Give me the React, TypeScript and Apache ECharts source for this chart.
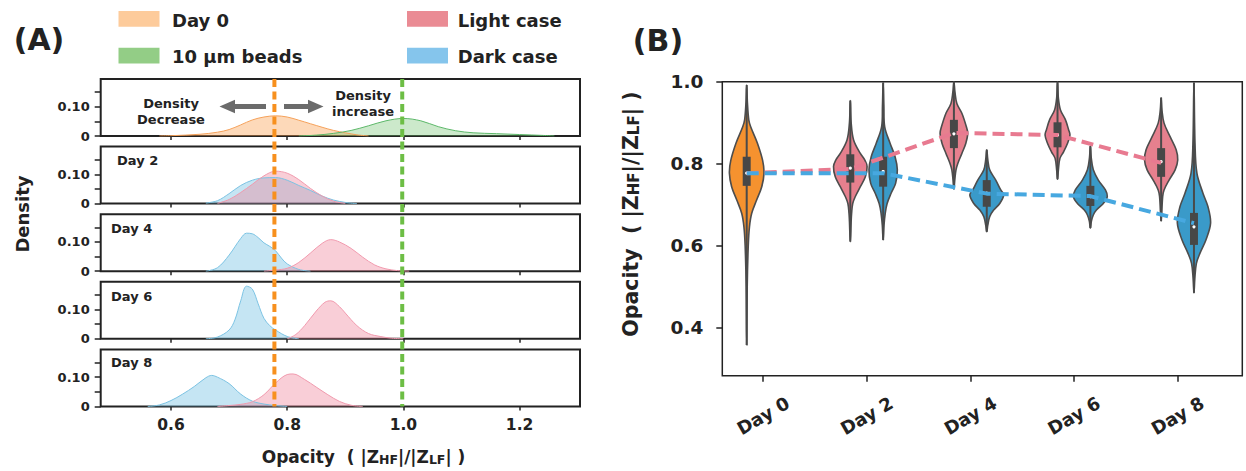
import React, { useEffect, useRef } from 'react';
import * as echarts from 'echarts';

// ---------------- Panel A data ----------------
const TICKS_A_X = [0.6, 0.8, 1.0, 1.2];
const TICKS_A_Y = [0, 0.05, 0.1, 0.15];
const LABELS_A_Y = [0, 0.1];
const PANEL_A_DAYS = ['Day 2', 'Day 4', 'Day 6', 'Day 8'];

const DAY0_X = [0.58, 0.6, 0.65, 0.68, 0.7, 0.72, 0.74, 0.76, 0.78, 0.8, 0.82, 0.84, 0.86, 0.88, 0.9, 0.92, 0.94];
const DAY0_Y = [0, 0.001, 0.006, 0.013, 0.022, 0.038, 0.055, 0.065, 0.069, 0.065, 0.054, 0.042, 0.03, 0.019, 0.011, 0.004, 0];

const BEADS_X = [0.82, 0.85, 0.88, 0.91, 0.94, 0.97, 1.0, 1.03, 1.06, 1.09, 1.12, 1.16, 1.2, 1.24, 1.26];
const BEADS_Y = [0, 0.003, 0.009, 0.019, 0.035, 0.052, 0.06, 0.052, 0.032, 0.018, 0.011, 0.008, 0.005, 0.002, 0];

const LIGHT_X = [
  [0.68, 0.7, 0.72, 0.74, 0.76, 0.78, 0.8, 0.82, 0.84, 0.86, 0.88, 0.9],
  [0.76, 0.78, 0.8, 0.82, 0.84, 0.86, 0.875, 0.89, 0.91, 0.93, 0.95, 0.97, 0.99, 1.01],
  [0.8, 0.815, 0.83, 0.85, 0.865, 0.875, 0.89, 0.9, 0.92, 0.94, 0.96, 0.98, 1.0],
  [0.68, 0.7, 0.72, 0.74, 0.76, 0.78, 0.8, 0.81, 0.83, 0.85, 0.87, 0.89, 0.91, 0.93],
];
const LIGHT_Y = [
  [0.001, 0.014, 0.038, 0.066, 0.095, 0.111, 0.104, 0.082, 0.052, 0.026, 0.008, 0.001],
  [0, 0.004, 0.01, 0.03, 0.062, 0.095, 0.108, 0.1, 0.078, 0.048, 0.022, 0.008, 0.002, 0],
  [0, 0.015, 0.045, 0.095, 0.125, 0.13, 0.11, 0.088, 0.045, 0.018, 0.008, 0.002, 0],
  [0, 0.003, 0.007, 0.016, 0.04, 0.08, 0.109, 0.111, 0.092, 0.066, 0.04, 0.017, 0.004, 0],
];
const DARK_X = [
  [0.66, 0.68, 0.7, 0.72, 0.74, 0.76, 0.78, 0.8, 0.82, 0.84, 0.86, 0.88, 0.9, 0.92],
  [0.66, 0.68, 0.7, 0.72, 0.73, 0.74, 0.75, 0.76, 0.77, 0.78, 0.79, 0.8, 0.82, 0.84],
  [0.66, 0.68, 0.7, 0.71, 0.72, 0.73, 0.74, 0.75, 0.76, 0.77, 0.78, 0.8, 0.82],
  [0.56, 0.58, 0.6, 0.62, 0.64, 0.66, 0.67, 0.68, 0.7, 0.72, 0.74, 0.76, 0.78, 0.8],
];
const DARK_Y = [
  [0.002, 0.01, 0.034, 0.062, 0.08, 0.088, 0.089, 0.08, 0.062, 0.045, 0.026, 0.012, 0.004, 0],
  [0, 0.012, 0.055, 0.112, 0.13, 0.128, 0.115, 0.097, 0.085, 0.07, 0.045, 0.025, 0.006, 0],
  [0, 0.006, 0.03, 0.065, 0.13, 0.18, 0.17, 0.12, 0.07, 0.045, 0.03, 0.008, 0],
  [0, 0.005, 0.02, 0.042, 0.068, 0.098, 0.106, 0.1, 0.078, 0.042, 0.018, 0.008, 0.003, 0],
];
// vertical reference lines: mean of Day 0, mean of 10 µm beads
const REF_LINES = [0.778, 0.998];

// ---------------- Panel B data ----------------
const DAY_NUMS = [0, 2, 4, 6, 8];
const TICKS_B_Y = [0.4, 0.6, 0.8, 1.0];
const LIGHT_MEANS = [0.777, 0.787, 0.875, 0.87, 0.802];
const DARK_MEANS = [0.777, 0.777, 0.727, 0.721, 0.655];

// violin profiles: [value, relative density width]
const DAY0_VIOLIN = [
  [0.358, 0], [0.5, 0.03], [0.6, 0.09], [0.646, 0.16], [0.679, 0.29], [0.712, 0.58], [0.744, 0.87],
  [0.777, 1.0], [0.808, 0.92], [0.85, 0.62], [0.89, 0.23], [0.907, 0.12], [0.95, 0.04], [0.992, 0],
];
const LIGHT_VIOLINS = [
  [[0.61, 0], [0.66, 0.05], [0.679, 0.075], [0.703, 0.14], [0.72, 0.29], [0.744, 0.58], [0.768, 0.87],
    [0.793, 0.97], [0.809, 0.84], [0.825, 0.58], [0.858, 0.19], [0.9, 0.05], [0.954, 0]],
  [[0.738, 0], [0.76, 0.05], [0.785, 0.12], [0.801, 0.23], [0.825, 0.46], [0.85, 0.69], [0.874, 0.8],
    [0.89, 0.72], [0.923, 0.46], [0.947, 0.17], [0.975, 0.06], [1.0, 0]],
  [[0.762, 0], [0.785, 0.05], [0.813, 0.14], [0.829, 0.35], [0.85, 0.58], [0.87, 0.72], [0.883, 0.64],
    [0.907, 0.46], [0.931, 0.17], [0.96, 0.05], [1.0, 0]],
  [[0.66, 0], [0.72, 0.09], [0.736, 0.17], [0.76, 0.46], [0.785, 0.81], [0.809, 0.96], [0.834, 0.87],
    [0.866, 0.52], [0.899, 0.17], [0.93, 0.05], [0.961, 0]],
];
const DARK_VIOLINS = [
  [[0.614, 0], [0.65, 0.05], [0.679, 0.12], [0.703, 0.23], [0.728, 0.46], [0.752, 0.72], [0.785, 0.82],
    [0.817, 0.69], [0.85, 0.4], [0.89, 0.09], [0.94, 0.04], [0.998, 0]],
  [[0.634, 0], [0.65, 0.06], [0.671, 0.17], [0.687, 0.4], [0.703, 0.75], [0.724, 0.98], [0.736, 0.81],
    [0.76, 0.52], [0.785, 0.17], [0.81, 0.06], [0.834, 0]],
  [[0.643, 0], [0.66, 0.06], [0.675, 0.17], [0.687, 0.35], [0.703, 0.75], [0.72, 0.98], [0.736, 0.87],
    [0.76, 0.46], [0.785, 0.17], [0.815, 0.05], [0.843, 0]],
  [[0.485, 0], [0.52, 0.05], [0.557, 0.14], [0.582, 0.35], [0.614, 0.69], [0.655, 0.96], [0.695, 0.81],
    [0.728, 0.52], [0.777, 0.17], [0.85, 0.06], [0.998, 0]],
];
// box stats: [q1, median, q3]
const DAY0_BOX = [[0.746, 0.777, 0.817]];
const LIGHT_BOX = [[0.754, 0.789, 0.823], [0.838, 0.873, 0.907], [0.84, 0.87, 0.901], [0.768, 0.805, 0.838]];
const DARK_BOX = [[0.744, 0.781, 0.817], [0.695, 0.728, 0.76], [0.697, 0.72, 0.746], [0.602, 0.646, 0.68]];

// ---------------- layout / style ----------------
const FONT = "'DejaVu Sans', sans-serif";
const INK = '#222';
const A_LEFT = 100.7, A_WIDTH = 479.3, A_TOP = 79, A_STEP = 67.6, A_HEIGHT = 57;
const A_BOTTOM = A_TOP + 4 * A_STEP + A_HEIGHT;
const B_LEFT = 722.3, B_TOP = 81.7, B_WIDTH = 520, B_HEIGHT = 294;
const OFFSET = 0.317; // hue dodge in days
const VIOLIN_HALF = 0.334;
const BOX_HALF = 0.077;

const C_DAY0_FILL = 'rgba(249,160,80,0.40)', C_DAY0_LINE = '#F5A15A';
const C_BEADS_FILL = 'rgba(108,192,106,0.35)', C_BEADS_LINE = '#5DB86A';
const C_LIGHT_FILL = 'rgba(240,125,150,0.38)', C_LIGHT_LINE = '#F19AAE';
const C_DARK_FILL = 'rgba(110,190,225,0.40)', C_DARK_LINE = '#7CC3E3';
const V_DAY0 = '#F5922F', V_LIGHT = '#E6808E', V_DARK = '#3A9AC9';
const REF_COLORS = ['#F7901E', '#6DBE45'];

const pairs = (xs: number[], ys: number[]) => xs.map((x, i) => [x, ys[i]]);

const densitySeries = (name: string, k: number, xs: number[], ys: number[], line: string, fill: string) => ({
  name,
  type: 'line',
  xAxisIndex: k,
  yAxisIndex: k,
  data: pairs(xs, ys),
  smooth: 0.35,
  symbol: 'none',
  lineStyle: { color: line, width: 1 },
  areaStyle: { color: fill, opacity: 1 },
  z: 3,
});

const makeViolin = (profiles: number[][][], boxes: number[][], fill: string) => (params: any, api: any) => {
  const i = params.dataIndex;
  const cx = api.value(0);
  const prof = profiles[i];
  const right = prof.map((p) => api.coord([cx + p[1] * VIOLIN_HALF, p[0]]));
  const left = prof.slice(1, -1).reverse().map((p) => api.coord([cx - p[1] * VIOLIN_HALF, p[0]]));
  const vmin = prof[0][0];
  const vmax = prof[prof.length - 1][0];
  const [q1, med, q3] = boxes[i];
  const pTop = api.coord([cx, vmax]);
  const pBot = api.coord([cx, vmin]);
  const bTL = api.coord([cx - BOX_HALF, q3]);
  const bBR = api.coord([cx + BOX_HALF, q1]);
  const pm = api.coord([cx, med]);
  return {
    type: 'group',
    children: [
      { type: 'polygon', shape: { points: right.concat(left), smooth: 0.35 }, style: { fill, stroke: '#4d4d4d', lineWidth: 1.6 } },
      { type: 'line', shape: { x1: pTop[0], y1: pTop[1], x2: pBot[0], y2: pBot[1] }, style: { stroke: '#4a4a4a', lineWidth: 2 } },
      { type: 'rect', shape: { x: bTL[0], y: bTL[1], width: bBR[0] - bTL[0], height: bBR[1] - bTL[1] }, style: { fill: '#474747' } },
      { type: 'circle', shape: { cx: pm[0], cy: pm[1], r: 1.6 }, style: { fill: '#fff' } },
    ],
  };
};

function buildOption() {
  const grids: any[] = [];
  const xAxes: any[] = [];
  const yAxes: any[] = [];
  for (let k = 0; k < 5; k++) {
    grids.push({
      left: A_LEFT, top: A_TOP + k * A_STEP, width: A_WIDTH, height: A_HEIGHT,
      show: true, borderColor: INK, borderWidth: 2, backgroundColor: 'transparent',
      containLabel: false, outerBoundsMode: 'none',
    });
    xAxes.push({
      type: 'value', gridIndex: k, min: 0.479, max: 1.304,
      axisLine: { show: false, onZero: false },
      splitLine: { show: false },
      axisTick: { show: true, customValues: TICKS_A_X, length: 4, lineStyle: { color: INK, width: 1.5 } },
      axisLabel: {
        show: k === 4, customValues: TICKS_A_X, formatter: (v: number) => v.toFixed(1),
        fontFamily: FONT, fontWeight: 'bold', fontSize: 15.5, color: INK, margin: 11,
      },
    });
    yAxes.push({
      type: 'value', gridIndex: k, min: 0, max: 0.195,
      axisLine: { show: false, onZero: false },
      splitLine: { show: false },
      axisTick: { show: true, customValues: TICKS_A_Y, length: 6, lineStyle: { color: INK, width: 1.5 } },
      axisLabel: {
        customValues: LABELS_A_Y, formatter: (v: number) => (v === 0 ? '0' : v.toFixed(2)),
        fontFamily: FONT, fontWeight: 'bold', fontSize: 13, color: INK, margin: 11,
      },
    });
  }
  grids.push({
    left: B_LEFT, top: B_TOP, width: B_WIDTH, height: B_HEIGHT,
    show: true, borderColor: INK, borderWidth: 1.5, backgroundColor: 'transparent',
    containLabel: false, outerBoundsMode: 'none',
  });
  xAxes.push({
    type: 'value', gridIndex: 5, min: -0.788, max: 9.25,
    axisLine: { show: false, onZero: false }, splitLine: { show: false },
    axisTick: { show: true, customValues: DAY_NUMS, length: 6, lineStyle: { color: INK, width: 1.5 } },
    axisLabel: {
      customValues: DAY_NUMS, formatter: 'Day {value}', rotate: 30, align: 'center', verticalAlign: 'middle',
      fontFamily: FONT, fontWeight: 'bold', fontSize: 18, color: INK, margin: 40,
    },
  });
  yAxes.push({
    type: 'value', gridIndex: 5, min: 0.283, max: 1.0,
    axisLine: { show: false, onZero: false }, splitLine: { show: false },
    axisTick: { show: true, customValues: TICKS_B_Y, length: 6, lineStyle: { color: INK, width: 1.5 } },
    axisLabel: {
      customValues: TICKS_B_Y, formatter: (v: number) => v.toFixed(1),
      fontFamily: FONT, fontWeight: 'bold', fontSize: 18.5, color: INK, margin: 19,
    },
  });

  const series: any[] = [];
  series.push(densitySeries('Day 0', 0, DAY0_X, DAY0_Y, C_DAY0_LINE, C_DAY0_FILL));
  series.push(densitySeries('10 μm beads', 0, BEADS_X, BEADS_Y, C_BEADS_LINE, C_BEADS_FILL));
  for (let d = 0; d < 4; d++) {
    series.push(densitySeries('Dark case', d + 1, DARK_X[d], DARK_Y[d], C_DARK_LINE, C_DARK_FILL));
    series.push(densitySeries('Light case', d + 1, LIGHT_X[d], LIGHT_Y[d], C_LIGHT_LINE, C_LIGHT_FILL));
  }
  series.push({
    type: 'custom', name: 'reference', xAxisIndex: 0, yAxisIndex: 0, clip: false, z: 10,
    data: REF_LINES.map((v) => [v, 0]),
    renderItem: (params: any, api: any) => {
      const p = api.coord([api.value(0), 0.195]);
      return {
        type: 'line',
        shape: { x1: p[0], y1: p[1], x2: p[0], y2: A_BOTTOM },
        style: { stroke: REF_COLORS[params.dataIndex], lineWidth: 4, lineDash: [8, 4.5] },
      };
    },
  });

  // Panel B violins
  series.push({
    type: 'custom', name: 'Day 0 violin', xAxisIndex: 5, yAxisIndex: 5, z: 2,
    data: [[DAY_NUMS[0] - OFFSET, DAY0_BOX[0][1]]],
    renderItem: makeViolin([DAY0_VIOLIN], DAY0_BOX, V_DAY0),
  });
  series.push({
    type: 'custom', name: 'Light case violin', xAxisIndex: 5, yAxisIndex: 5, z: 2,
    data: DAY_NUMS.slice(1).map((d, i) => [d - OFFSET, LIGHT_BOX[i][1]]),
    renderItem: makeViolin(LIGHT_VIOLINS, LIGHT_BOX, V_LIGHT),
  });
  series.push({
    type: 'custom', name: 'Dark case violin', xAxisIndex: 5, yAxisIndex: 5, z: 2,
    data: DAY_NUMS.slice(1).map((d, i) => [d + OFFSET, DARK_BOX[i][1]]),
    renderItem: makeViolin(DARK_VIOLINS, DARK_BOX, V_DARK),
  });
  series.push({
    type: 'line', name: 'Light case mean', xAxisIndex: 5, yAxisIndex: 5, z: 5,
    data: DAY_NUMS.map((d, i) => [d - OFFSET, LIGHT_MEANS[i]]),
    symbol: 'none', lineStyle: { color: '#E87A90', width: 4, type: [12, 6] },
  });
  series.push({
    type: 'line', name: 'Dark case mean', xAxisIndex: 5, yAxisIndex: 5, z: 5,
    data: DAY_NUMS.map((d, i) => [i === 0 ? d - OFFSET : d + OFFSET, DARK_MEANS[i]]),
    symbol: 'none', lineStyle: { color: '#47A8E0', width: 4, type: [12, 6] },
  });

  const txt = (text: string, x: number, y: number, size: number, extra: any = {}, rotation = 0) => ({
    type: 'text', x, y, z: 20, rotation,
    style: { text, fontFamily: FONT, fontWeight: 'bold', fontSize: size, fill: INK, align: 'left', verticalAlign: 'middle', ...extra },
  });
  const rich = (size: number, small: number) => ({
    a: { fontFamily: FONT, fontWeight: 'bold', fontSize: size, fill: INK, verticalAlign: 'bottom' },
    s: { fontFamily: FONT, fontWeight: 'bold', fontSize: small, fill: INK, verticalAlign: 'bottom' },
  });
  const richText = '{a|Opacity  ( |Z}{s|HF}{a||/|Z}{s|LF}{a|| )}';
  const arrowColor = '#6b6b6b';

  const graphic: any[] = [
    txt('(A)', 39, 39, 30, { align: 'center' }),
    txt('(B)', 658, 40, 30, { align: 'center' }),
    // legend
    { type: 'rect', shape: { x: 118.5, y: 11, width: 41, height: 15.7 }, style: { fill: '#FDCB9B' } },
    txt('Day 0', 172, 20.5, 18),
    { type: 'rect', shape: { x: 118.5, y: 47.7, width: 41, height: 15.7 }, style: { fill: '#93CD86' } },
    txt('10 μm beads', 172, 56.5, 18),
    { type: 'rect', shape: { x: 407, y: 11, width: 41, height: 15.7 }, style: { fill: '#EA8B94' } },
    txt('Light case', 457.7, 20.5, 18),
    { type: 'rect', shape: { x: 407, y: 47.7, width: 41, height: 15.7 }, style: { fill: '#85C5EC' } },
    txt('Dark case', 457.7, 56.5, 18),
    // axis titles
    txt('Density', 22, 214, 18, { align: 'center' }, Math.PI / 2),
    { type: 'text', x: 363.5, y: 457, z: 20, style: { text: richText, rich: rich(17, 12.5), align: 'center', verticalAlign: 'middle' } },
    { type: 'text', x: 631, y: 214, rotation: Math.PI / 2, z: 20, style: { text: richText, rich: rich(20.5, 15), align: 'center', verticalAlign: 'middle' } },
    // annotations
    txt('Density\nDecrease', 171, 111.5, 13, { align: 'center', lineHeight: 15.5 }),
    txt('Density\nincrease', 363, 103.5, 13, { align: 'center', lineHeight: 15.5 }),
    { type: 'line', shape: { x1: 266, y1: 106.5, x2: 232, y2: 106.5 }, style: { stroke: arrowColor, lineWidth: 5 }, z: 20 },
    { type: 'polygon', shape: { points: [[219.5, 106.5], [235, 99.8], [235, 113.2]] }, style: { fill: arrowColor }, z: 20 },
    { type: 'line', shape: { x1: 284, y1: 106.5, x2: 311, y2: 106.5 }, style: { stroke: arrowColor, lineWidth: 5 }, z: 20 },
    { type: 'polygon', shape: { points: [[323.5, 106.5], [308, 99.8], [308, 113.2]] }, style: { fill: arrowColor }, z: 20 },
    // subplot labels
    txt(PANEL_A_DAYS[0], 117, 160, 13),
    txt(PANEL_A_DAYS[1], 111, 228.3, 13),
    txt(PANEL_A_DAYS[2], 111, 296.7, 13),
    txt(PANEL_A_DAYS[3], 111, 362.7, 13),
  ];

  return {
    animation: false,
    backgroundColor: '#fff',
    grid: grids,
    xAxis: xAxes,
    yAxis: yAxes,
    series,
    graphic,
  };
}

export default function App() {
  const ref = useRef<HTMLDivElement>(null);
  useEffect(() => {
    if (!ref.current) return;
    const chart = echarts.init(ref.current, null, { renderer: 'svg' });
    chart.setOption(buildOption() as any);
    return () => chart.dispose();
  }, []);
  return <div ref={ref} style={{ position: 'absolute', left: 0, top: 0, width: 1246, height: 471 }} />;
}
